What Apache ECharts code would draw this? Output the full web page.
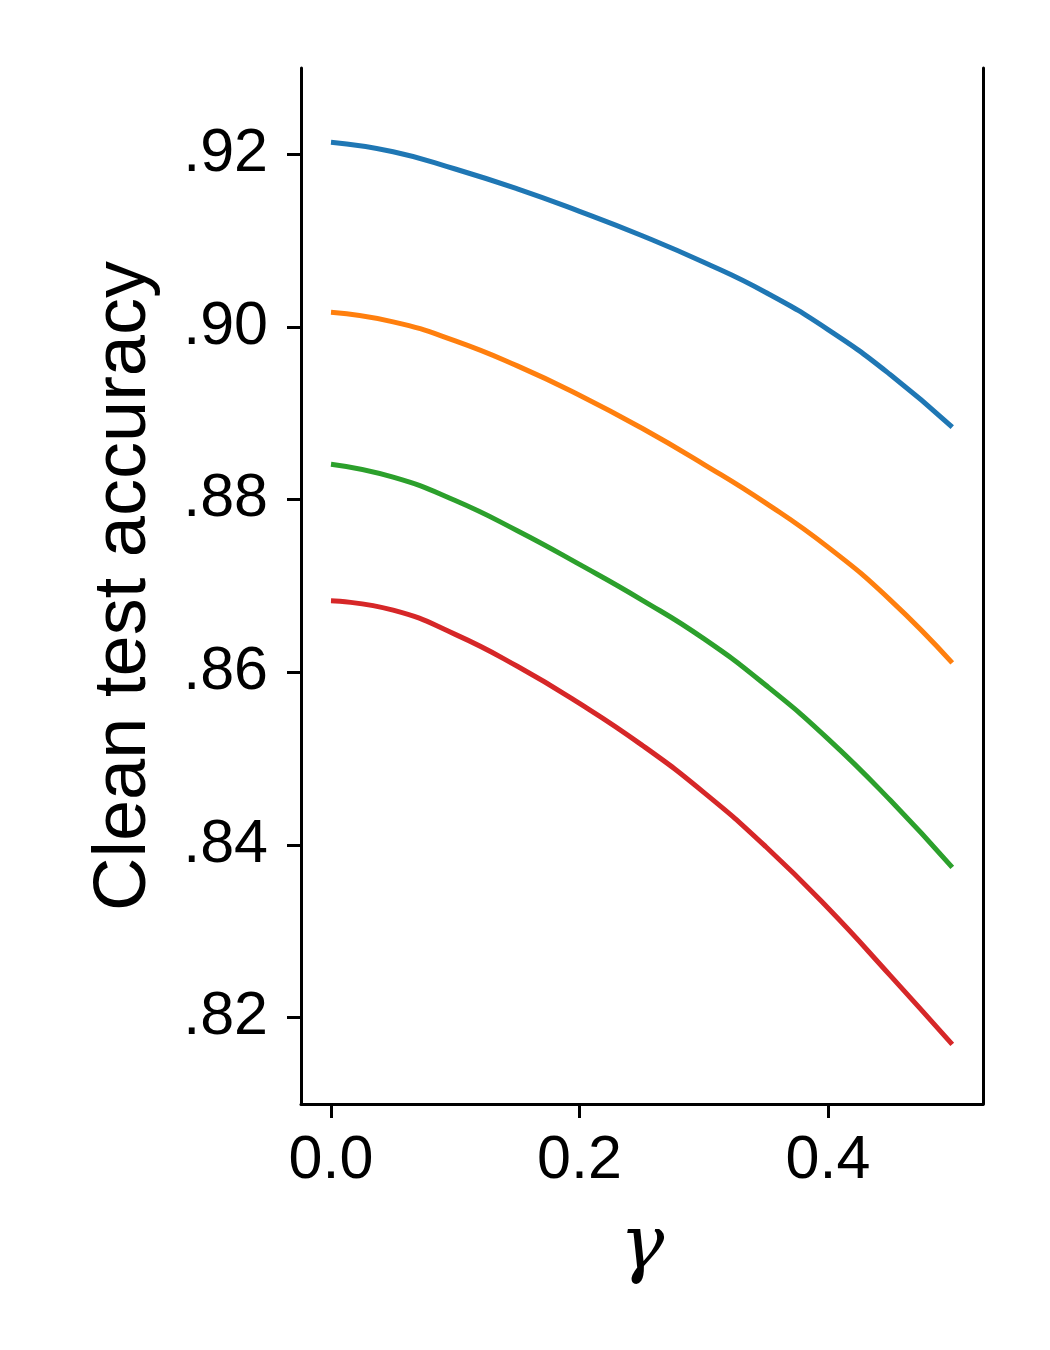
<!DOCTYPE html>
<html><head><meta charset="utf-8">
<script src="https://cdn.jsdelivr.net/npm/echarts@6/dist/echarts.min.js"></script>
<style>html,body{margin:0;padding:0;background:#fff}#c{width:1050px;height:1350px}</style>
</head><body><div id="c"></div>
<script>
const gammas = [0, 0.05, 0.10, 0.15, 0.20, 0.25, 0.30, 0.35, 0.40, 0.45, 0.50];
const seriesBlue   = [0.9214, 0.9203, 0.9183, 0.9160, 0.9134, 0.9106, 0.9075, 0.9040, 0.8997, 0.8945, 0.8884];
const seriesOrange = [0.9017, 0.9006, 0.8984, 0.8955, 0.8921, 0.8883, 0.8841, 0.8796, 0.8745, 0.8684, 0.8611];
const seriesGreen  = [0.8841, 0.8826, 0.8799, 0.8764, 0.8725, 0.8684, 0.8639, 0.8585, 0.8523, 0.8452, 0.8374];
const seriesRed    = [0.8683, 0.8672, 0.8644, 0.8607, 0.8564, 0.8516, 0.8461, 0.8398, 0.8327, 0.8249, 0.8169];
const xTicks = [0, 0.2, 0.4];
const yTicks = [0.82, 0.84, 0.86, 0.88, 0.90, 0.92];
const yAxisTitle = 'Clean test accuracy';
const xAxisTitle = 'γ';

const colors = ['#1f77b4', '#ff7f0e', '#2ca02c', '#d62728'];
const allSeries = [seriesBlue, seriesOrange, seriesGreen, seriesRed];

const chart = echarts.init(document.getElementById('c'), null, {renderer: 'canvas'});
const axisLineStyle = {color: '#000', width: 3};
chart.setOption({
  animation: false,
  backgroundColor: '#fff',
  grid: {left: 301, right: 67, top: 68, bottom: 246, containLabel: false},
  xAxis: {
    type: 'value', min: -0.02414, max: 0.52475,
    name: xAxisTitle, nameLocation: 'middle', nameGap: 108,
    nameTextStyle: {fontFamily: 'DejaVu Serif', fontStyle: 'italic', fontSize: 74, color: '#000'},
    axisLine: {show: true, onZero: false, lineStyle: axisLineStyle},
    axisTick: {show: true, inside: false, length: 14, lineStyle: {color: '#000', width: 3}, customValues: xTicks},
    axisLabel: {show: true, margin: 27, fontFamily: 'Liberation Sans', fontSize: 61, color: '#000',
      customValues: xTicks, formatter: v => v.toFixed(1)},
    splitLine: {show: false}
  },
  yAxis: [{
    type: 'value', min: 0.81, max: 0.93, position: 'left',
    name: yAxisTitle, nameLocation: 'middle', nameGap: 139, nameRotate: 90,
    nameTextStyle: {fontFamily: 'Liberation Sans', fontSize: 74, color: '#000'},
    axisLine: {show: true, onZero: false, lineStyle: axisLineStyle},
    axisTick: {show: true, inside: false, length: 14, lineStyle: {color: '#000', width: 3}, customValues: yTicks},
    axisLabel: {show: true, margin: 33, fontFamily: 'Liberation Sans', fontSize: 61, color: '#000',
      customValues: yTicks, formatter: v => v.toFixed(2).replace(/^0/, '')},
    splitLine: {show: false}
  }, {
    type: 'value', min: 0.81, max: 0.93, position: 'right',
    axisLine: {show: true, onZero: false, lineStyle: axisLineStyle},
    axisTick: {show: false}, axisLabel: {show: false}, splitLine: {show: false}
  }],
  series: allSeries.map((vals, i) => ({
    type: 'line',
    data: gammas.map((g, j) => [g, vals[j]]),
    smooth: 0.5,
    showSymbol: false,
    lineStyle: {color: colors[i], width: 5, cap: 'butt'},
    itemStyle: {color: colors[i]},
    z: 3
  }))
});
</script>
</body></html>
